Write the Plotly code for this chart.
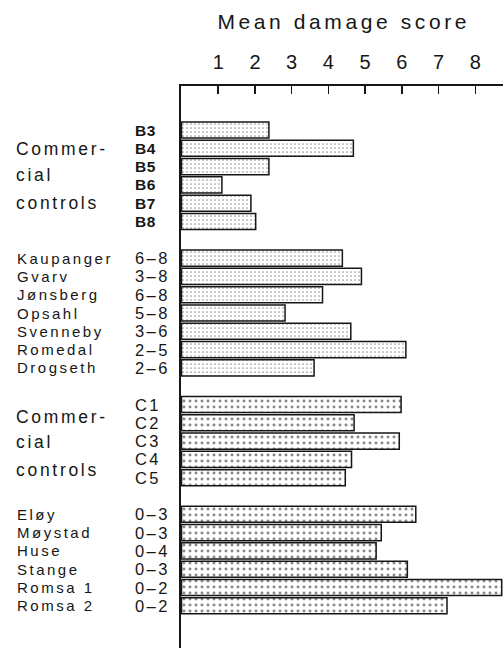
import json
import plotly.graph_objects as go

# ---------------- data ----------------
ctrl1_codes = ["B3", "B4", "B5", "B6", "B7", "B8"]
ctrl1_scores = [2.38, 4.68, 2.38, 1.10, 1.89, 2.02]

orchard1_names = ["Kaupanger", "Gvarv", "Jønsberg", "Opsahl", "Svenneby", "Romedal", "Drogseth"]
orchard1_codes = ["6–8", "3–8", "6–8", "5–8", "3–6", "2–5", "2–6"]
orchard1_scores = [4.38, 4.90, 3.84, 2.82, 4.61, 6.11, 3.61]

ctrl2_codes = ["C1", "C2", "C3", "C4", "C5"]
ctrl2_scores = [5.98, 4.70, 5.93, 4.63, 4.46]

orchard2_names = ["Eløy", "Møystad", "Huse", "Stange", "Romsa 1", "Romsa 2"]
orchard2_codes = ["0–3", "0–3", "0–4", "0–3", "0–2", "0–2"]
orchard2_scores = [6.38, 5.44, 5.30, 6.15, 8.72, 7.23]

tick_values = [1, 2, 3, 4, 5, 6, 7, 8]
axis_title = "Mean damage score"
control_label_lines = ["Commer-", "cial", "controls"]

# ---------------- layout constants ----------------
W, H = 503, 648
L, T = 181, 86
PW, PH = W - L, H - T
ROW_PX = 18.3
ROW0_PX = 130.0
INK = "#161616"
FONT = "Liberation Sans, Arial, Helvetica, sans-serif"

def px_x(px):
    return (px - L) / PW

def px_y_paper(py):
    return 1 - (py - T) / PH

# row positions: consecutive rows, one empty row between groups
groups = [
    (None, ctrl1_codes, ctrl1_scores, "light"),
    (orchard1_names, orchard1_codes, orchard1_scores, "light"),
    (None, ctrl2_codes, ctrl2_scores, "dark"),
    (orchard2_names, orchard2_codes, orchard2_scores, "dark"),
]
rows_per_group = []
start = 0
for names, codes, scores, _ in groups:
    rows_per_group.append(list(range(start, start + len(scores))))
    start += len(scores) + 1

patterns = {
    "light": dict(shape=".", size=4.0, solidity=0.14, fgcolor="#2a2a2a", bgcolor="white"),
    "dark": dict(shape=".", size=6.0, solidity=0.19, fgcolor="#111111", bgcolor="white"),
}

fig = go.Figure()
for (names, codes, scores, pat), rows in zip(groups, rows_per_group):
    fig.add_trace(go.Bar(
        x=scores, y=rows, orientation="h", width=0.88,
        marker=dict(color="white", line=dict(color=INK, width=1.5), pattern=patterns[pat]),
        hoverinfo="skip", showlegend=False,
    ))

annotations = []
spacing = []

def add_ann(text, x, y, size, ls, xref="paper", yref="y", xanchor="left", align="left", bold=False, yanchor="middle"):
    annotations.append(dict(
        text=("<b>%s</b>" % text) if bold else text,
        x=x, y=y, xref=xref, yref=yref, xanchor=xanchor, yanchor=yanchor, align=align,
        showarrow=False, font=dict(family=FONT, size=size, color=INK),
    ))
    spacing.append(ls)

# title
add_ann(axis_title, px_x(343), px_y_paper(22), 21, 3.6, yref="paper", xanchor="center", align="center")

for gi, ((names, codes, scores, pat), rows) in enumerate(zip(groups, rows_per_group)):
    for j, r in enumerate(rows):
        if names is not None:
            add_ann(names[j], px_x(15), r, 15, 2.5)
        if gi == 0:
            add_ann(codes[j], px_x(133), r, 15.5, 0.6, bold=True)
        else:
            add_ann(codes[j], px_x(133), r, 16.5, 2.4)

# group labels for the commercial controls
ctrl_label_px = [[149, 175, 203], [417, 442, 470]]
for ys in ctrl_label_px:
    for line, py in zip(control_label_lines, ys):
        add_ann(line, px_x(14), (py - ROW0_PX) / ROW_PX, 17.5, 2.7)

fig.update_layout(
    width=W, height=H,
    margin=dict(l=L, r=0, t=T, b=0, pad=0, autoexpand=False),
    paper_bgcolor="white", plot_bgcolor="white",
    bargap=0,
    annotations=annotations,
    xaxis=dict(
        side="top", range=[-0.014, 8.755], tickvals=tick_values,
        ticks="inside", ticklen=8, tickwidth=1.5, tickcolor=INK,
        showline=True, linewidth=2, linecolor=INK,
        showgrid=False, zeroline=False, automargin=False,
        tickfont=dict(family=FONT, size=20, color=INK),
        ticklabelstandoff=7,
    ),
    yaxis=dict(
        range=[(H - ROW0_PX) / ROW_PX, (T - ROW0_PX) / ROW_PX],
        showline=True, linewidth=2, linecolor=INK, automargin=False,
        showticklabels=False, ticks="", showgrid=False, zeroline=False,
    ),
)

post = """
document.body.style.margin = '0';
document.body.style.overflow = 'hidden';
var gd = document.getElementById('{plot_id}');
var sp = %s;
gd.querySelectorAll('g.annotation').forEach(function(g){
  var i = +g.getAttribute('data-index');
  var t = g.querySelector('text.annotation-text');
  if (t && sp[i]) { t.style.letterSpacing = sp[i] + 'px'; }
});
""" % json.dumps(spacing)

fig.write_html("out.html", post_script=post, config={"displayModeBar": False, "staticPlot": True})
